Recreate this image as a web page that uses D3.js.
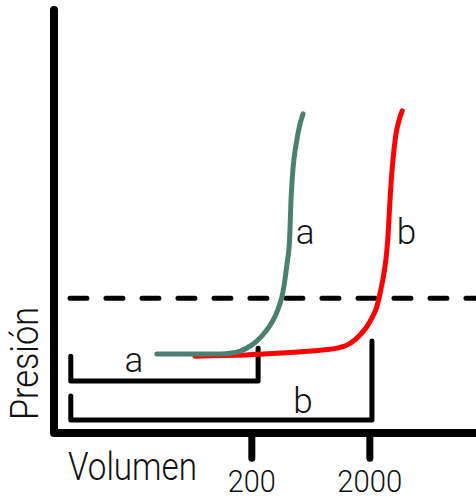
<!DOCTYPE html>
<html>
<head>
<meta charset="utf-8">
<script src="https://cdn.jsdelivr.net/npm/d3@7"></script>
<style>
  html, body { margin: 0; padding: 0; background: #fff; }
  text { font-family: Roboto, "Noto Sans", sans-serif; font-weight: 300; fill: #111; }
</style>
</head>
<body>
<div id="chart"></div>
<script>
// curva presión-volumen (esquema)

// curva a (verde): [volumen, presión] en unidades arbitrarias 0-100
const curveA = [
    [24.5, 18.8], [34.8, 18.8], [41.4, 18.8], [44.3, 19.3], [47.4, 21.0], [49.5, 23.0],
    [51.4, 25.4], [52.6, 27.6], [53.3, 29.3], [54.3, 32.1], [55.0, 36.4], [55.5, 40.5],
    [56.0, 43.6], [56.2, 48.3], [56.4, 55.5], [56.7, 60.2], [56.9, 63.3], [57.4, 67.4],
    [58.1, 71.4], [58.6, 73.8], [59.3, 76.0]
];

// curva b (roja)
const curveB = [
    [33.6, 18.3], [44.3, 18.5], [49.0, 18.8], [58.6, 19.3], [65.7, 19.8], [69.8, 20.7],
    [71.7, 22.1], [73.3, 23.8], [74.5, 25.2], [75.7, 27.4], [76.7, 29.3], [77.4, 32.1],
    [78.3, 36.4], [79.0, 40.5], [79.5, 46.0], [79.8, 51.9], [80.0, 55.5], [80.5, 63.3],
    [81.0, 67.9], [81.4, 71.4], [82.1, 74.5], [82.9, 76.7]
];

// marcas del eje x
const tickValues = [47.1, 75.2];
const tickLabels = ['200', '2000'];

// línea discontinua (umbral de presión)
const thresholdY = 32.1;
const thresholdX = [3.8, 100.5];

// corchetes: [x0, x1, yBase, yTopLeft, yTopRight, label]
const brackets = [
    [4.0, 48.6, 12.4, 18.3, 20.2, 'a'],
    [4.0, 75.7, 3.1, 8.8, 21.9, 'b']
];

// etiquetas: [x, y, texto]
const labels = [
    [19.0, 14.5, 'a'],
    [59.3, 4.7, 'b'],
    [59.8, 45.0, 'a'],
    [83.9, 45.0, 'b']
];

const width = 476, height = 499;

const svg = d3.select('#chart').append('svg')
    .attr('width', width).attr('height', height);

const x = d3.scaleLinear().domain([0, 100]).range([54, 474]);
const y = d3.scaleLinear().domain([0, 100]).range([433, 13]);

const line = d3.line()
    .x(function (d) { return x(d[0]); })
    .y(function (d) { return y(d[1]); })
    .curve(d3.curveBasis);

// ejes
svg.append('path')
    .attr('d', 'M' + x(0) + ',' + y(100.7) + 'L' + x(0) + ',' + y(0) + 'L' + (width + 10) + ',' + y(0))
    .attr('fill', 'none').attr('stroke', '#000').attr('stroke-width', 8)
    .attr('stroke-linecap', 'round').attr('stroke-linejoin', 'round');

svg.selectAll('.tick').data(tickValues).enter().append('line')
    .attr('class', 'tick')
    .attr('x1', function (d) { return x(d); })
    .attr('x2', function (d) { return x(d); })
    .attr('y1', y(0)).attr('y2', y(-6))
    .attr('stroke', '#000').attr('stroke-width', 7).attr('stroke-linecap', 'round');

svg.selectAll('.tick-label').data(tickValues).enter().append('text')
    .attr('class', 'tick-label')
    .attr('x', function (d) { return x(d); })
    .attr('y', 492)
    .attr('text-anchor', 'middle')
    .attr('font-size', 32)
    .attr('textLength', function (d, i) { return tickLabels[i].length === 3 ? 48 : 65; })
    .attr('lengthAdjust', 'spacingAndGlyphs')
    .text(function (d, i) { return tickLabels[i]; });

// títulos de ejes
svg.append('text')
    .attr('x', 68).attr('y', 480)
    .attr('font-size', 39)
    .attr('textLength', 129).attr('lengthAdjust', 'spacingAndGlyphs')
    .text('Volumen');

svg.append('text')
    .attr('transform', 'translate(38,420) rotate(-90)')
    .attr('font-size', 38)
    .attr('textLength', 113).attr('lengthAdjust', 'spacingAndGlyphs')
    .text('Presión');

// línea discontinua
svg.append('line')
    .attr('x1', x(thresholdX[0])).attr('x2', x(thresholdX[1]))
    .attr('y1', y(thresholdY)).attr('y2', y(thresholdY))
    .attr('stroke', '#000').attr('stroke-width', 5)
    .attr('stroke-dasharray', '17 19').attr('stroke-linecap', 'round');

// corchetes
svg.selectAll('.bracket').data(brackets).enter().append('path')
    .attr('class', 'bracket')
    .attr('d', function (d) {
        return 'M' + x(d[0]) + ',' + y(d[3]) + 'L' + x(d[0]) + ',' + y(d[2]) +
            'L' + x(d[1]) + ',' + y(d[2]) + 'L' + x(d[1]) + ',' + y(d[4]);
    })
    .attr('fill', 'none').attr('stroke', '#000').attr('stroke-width', 5)
    .attr('stroke-linecap', 'round').attr('stroke-linejoin', 'round');

// curvas
svg.append('path').datum(curveB)
    .attr('d', line)
    .attr('fill', 'none').attr('stroke', '#ff0000').attr('stroke-width', 5)
    .attr('stroke-linecap', 'round');

svg.append('path').datum(curveA)
    .attr('d', line)
    .attr('fill', 'none').attr('stroke', '#4a8072').attr('stroke-width', 5)
    .attr('stroke-linecap', 'round');

// etiquetas a / b
svg.selectAll('.lbl').data(labels).enter().append('text')
    .attr('class', 'lbl')
    .attr('x', function (d) { return x(d[0]); })
    .attr('y', function (d) { return y(d[1]); })
    .attr('text-anchor', 'middle')
    .attr('font-size', 35)
    .text(function (d) { return d[2]; });
</script>
</body>
</html>
